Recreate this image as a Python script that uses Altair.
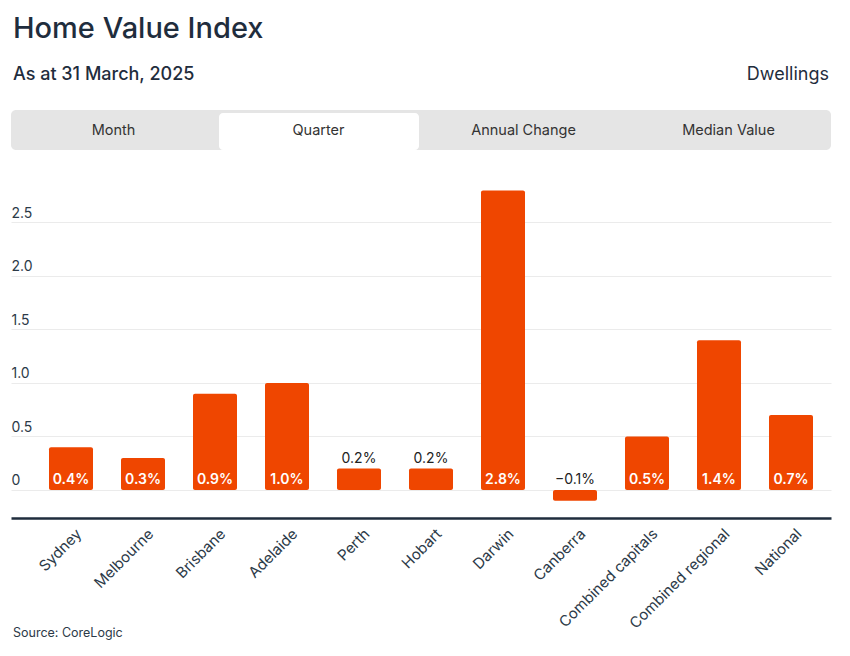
import altair as alt
import pandas as pd

# ---- data ----
regions = ["Sydney", "Melbourne", "Brisbane", "Adelaide", "Perth", "Hobart",
           "Darwin", "Canberra", "Combined capitals", "Combined regional", "National"]
quarter_change = [0.4, 0.3, 0.9, 1.0, 0.2, 0.2, 2.8, -0.1, 0.5, 1.4, 0.7]
y_ticks = [0, 0.5, 1.0, 1.5, 2.0, 2.5]
tab_names = ["Month", "Quarter", "Annual Change", "Median Value"]
active_tab = "Quarter"
title_text = "Home Value Index"
subtitle_text = "As at 31 March, 2025"
segment_text = "Dwellings"
source_text = "Source: CoreLogic"

FONT = "Inter"
DARK = "#1F2D3D"
TEXT = "#2C3A48"
BAR = "#EF4600"

df = pd.DataFrame({"region": regions, "value": quarter_change})

W, H = 820, 349
PAD_L, PAD_T = 11, 169

x_enc = alt.X("region:N", sort=regions, title=None,
              scale=alt.Scale(paddingInner=0.3889, paddingOuter=0.3889, align=0.6786),
              axis=alt.Axis(labelAngle=-45, labelAlign="right", labelBaseline="top",
                            labelPadding=8, labelFontSize=15, labelColor=TEXT,
                            labelFont=FONT, ticks=False, domainColor=DARK,
                            domainWidth=2.5, grid=False, labelOffset=3))
y_scale = alt.Scale(domain=[-0.2617, 3.0], nice=False, zero=False)
y_enc = alt.Y("value:Q", scale=y_scale, title=None,
              axis=alt.Axis(values=y_ticks, labelAlign="left",
                            labelBaseline="alphabetic", labelOffset=-5,
                            labelPadding=0, ticks=False, tickSize=0, domain=False,
                            gridColor="#EBEBEB", gridWidth=1.2, labelFontSize=14,
                            labelColor=TEXT, labelFont=FONT,
                            labelExpr="datum.value == 0 ? '0' : format(datum.value, '.1f')"))

base = alt.Chart(df)

bars = base.mark_bar(color=BAR, cornerRadius=2).encode(
    x=x_enc, y=y_enc, y2=alt.datum(0))

labels_in = base.transform_filter("datum.value >= 0.25").transform_calculate(
    lbl="format(datum.value, '.1f') + '%'"
).mark_text(color="white", fontSize=14, fontWeight=600, font=FONT,
            baseline="middle", dy=-10).encode(
    x=alt.X("region:N", sort=regions), y=alt.datum(0), text="lbl:N")

labels_out = base.transform_filter("datum.value < 0.25").transform_calculate(
    lbl="format(datum.value, '.1f') + '%'",
    ly="max(datum.value, 0)"
).mark_text(color="#222222", fontSize=14, font=FONT,
            baseline="middle", dy=-10).encode(
    x=alt.X("region:N", sort=regions), y=alt.Y("ly:Q"), text="lbl:N")

one = alt.Data(values=[{"k": 1}])

def deco_text(txt, x, y, **kw):
    return alt.Chart(pd.DataFrame({"t": [txt]})).mark_text(font=FONT, **kw).encode(
        x=alt.value(x), y=alt.value(y), text="t:N")

tab_bg = alt.Chart(one).mark_rect(color="#E5E5E5", cornerRadius=5).encode(
    x=alt.value(0), x2=alt.value(W), y=alt.value(110 - PAD_T), y2=alt.value(150 - PAD_T))
ai = tab_names.index(active_tab)
tab_w = W / len(tab_names)
tab_active = alt.Chart(one).mark_rect(color="white", cornerRadius=4).encode(
    x=alt.value(ai * tab_w + 3), x2=alt.value((ai + 1) * tab_w - 2),
    y=alt.value(113 - PAD_T), y2=alt.value(150 - PAD_T))

layers = [tab_bg, tab_active]
for i, name in enumerate(tab_names):
    layers.append(deco_text(name, (i + 0.5) * tab_w, 131 - PAD_T, fontSize=14.5,
                            color="#333333", align="center", baseline="middle"))

layers += [
    deco_text(title_text, 2, 29 - PAD_T, fontSize=29, fontWeight=500, color=DARK,
              align="left", baseline="middle"),
    deco_text(subtitle_text, 2, 75 - PAD_T, fontSize=18, fontWeight=500, color=DARK,
              align="left", baseline="middle"),
    deco_text(segment_text, W - 2, 75 - PAD_T, fontSize=18, color=DARK,
              align="right", baseline="middle"),
    deco_text(source_text, 2, 633 - PAD_T, fontSize=12.5, color=TEXT,
              align="left", baseline="middle"),
]

chart = alt.layer(bars, labels_in, labels_out, *layers).properties(
    width=W, height=H,
    autosize=alt.AutoSizeParams(type="none"),
    padding={"left": PAD_L, "top": PAD_T, "right": 850 - PAD_L - W, "bottom": 656 - PAD_T - H},
    background="white",
).configure_view(stroke=None)

chart.save("out.html", embed_options={"renderer": "svg", "actions": False})
